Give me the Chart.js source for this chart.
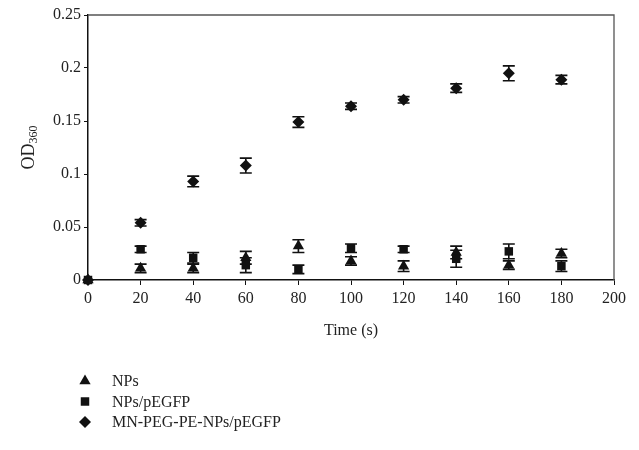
<!DOCTYPE html>
<html>
<head>
<meta charset="utf-8">
<script src="https://cdn.jsdelivr.net/npm/chart.js@4"></script>
<style>
  html, body { margin: 0; padding: 0; background: #fff; }
  #wrap { width: 639px; height: 450px; }
</style>
</head>
<body>
<div id="wrap"><canvas id="odChart" width="639" height="450"></canvas></div>
<script>
// time points (s)
const times = [0, 20, 40, 60, 80, 100, 120, 140, 160, 180];

// OD360 readings and their error (+/-)
const npsValues = [0, 0.011, 0.011, 0.021, 0.032, 0.018, 0.013, 0.026, 0.014, 0.025];
const npsErrors = [0, 0.004, 0.004, 0.006, 0.006, 0.004, 0.005, 0.006, 0.004, 0.004];

const pegfpValues = [0, 0.029, 0.021, 0.014, 0.010, 0.030, 0.029, 0.020, 0.027, 0.013];
const pegfpErrors = [0, 0.003, 0.005, 0.007, 0.004, 0.004, 0.003, 0.008, 0.007, 0.005];

const mnValues = [0, 0.054, 0.093, 0.108, 0.149, 0.164, 0.170, 0.181, 0.195, 0.189];
const mnErrors = [0, 0.003, 0.005, 0.007, 0.005, 0.003, 0.003, 0.004, 0.007, 0.004];

const seriesLabels = ['NPs', 'NPs/pEGFP', 'MN-PEG-PE-NPs/pEGFP'];
const xTicks = [0, 20, 40, 60, 80, 100, 120, 140, 160, 180, 200];
const yTicks = [0, 0.05, 0.1, 0.15, 0.2, 0.25];

const FONT = "'Liberation Serif', 'DejaVu Serif', serif";

function toPoints(values) {
  return values.map((v, i) => ({ x: times[i], y: v }));
}

// error bars drawn through the chart's own scales
const errorBars = {
  id: 'errorBars',
  beforeDatasetsDraw(chart) {
    const ctx = chart.ctx;
    const xs = chart.scales.x, ys = chart.scales.y;
    ctx.save();
    ctx.strokeStyle = '#111';
    ctx.lineWidth = 1.6;
    chart.data.datasets.forEach(ds => {
      ds.data.forEach((p, i) => {
        const e = ds.errors[i];
        if (!e) return;
        const px = xs.getPixelForValue(p.x);
        const top = ys.getPixelForValue(p.y + e);
        const bot = ys.getPixelForValue(p.y - e);
        ctx.beginPath();
        ctx.moveTo(px, top); ctx.lineTo(px, bot);
        ctx.moveTo(px - 6, top); ctx.lineTo(px + 6, top);
        ctx.moveTo(px - 6, bot); ctx.lineTo(px + 6, bot);
        ctx.stroke();
      });
    });
    ctx.restore();
  }
};

// box frame, y title with subscript, and the legend under the plot
const extras = {
  id: 'extras',
  afterDraw(chart) {
    const ctx = chart.ctx;
    const a = chart.chartArea;
    ctx.save();
    ctx.strokeStyle = '#555';
    ctx.lineWidth = 1.3;
    ctx.beginPath();
    ctx.moveTo(a.left, a.top); ctx.lineTo(a.right, a.top); ctx.lineTo(a.right, a.bottom);
    ctx.stroke();

    // y axis title: OD with subscript 360
    ctx.fillStyle = '#222';
    ctx.translate(29, (a.top + a.bottom) / 2);
    ctx.rotate(-Math.PI / 2);
    ctx.font = '18px ' + FONT;
    const w1 = ctx.measureText('OD').width;
    ctx.font = '12px ' + FONT;
    const w2 = ctx.measureText('360').width;
    const start = -(w1 + w2) / 2;
    ctx.textBaseline = 'middle';
    ctx.textAlign = 'left';
    ctx.font = '18px ' + FONT;
    ctx.fillText('OD', start, 0);
    ctx.font = '12px ' + FONT;
    ctx.fillText('360', start + w1, 5);
    ctx.restore();

    // legend, in the label order
    ctx.save();
    ctx.font = '16px ' + FONT;
    ctx.textBaseline = 'middle';
    seriesLabels.forEach((label, i) => {
      const ds = chart.data.datasets.find(d => d.label === label);
      const y = 381 + i * 20.5;
      ctx.fillStyle = '#111';
      Chart.helpers.drawPoint(ctx, {
        pointStyle: ds.pointStyle,
        radius: ds.pointRadius,
        borderWidth: 0
      }, 85, y);
      ctx.fillStyle = '#222';
      ctx.fillText(label, 112, y + 1);
    });
    ctx.restore();
  }
};

const axisTicks = { color: '#222', font: { family: FONT, size: 16 } };

new Chart(document.getElementById('odChart'), {
  type: 'scatter',
  data: {
    datasets: [
      {
        label: seriesLabels[0],
        data: toPoints(npsValues),
        errors: npsErrors,
        pointStyle: 'triangle',
        pointRadius: 6.5,
        backgroundColor: '#111',
        borderColor: '#111',
        borderWidth: 0,
        order: 2
      },
      {
        label: seriesLabels[1],
        data: toPoints(pegfpValues),
        errors: pegfpErrors,
        pointStyle: 'rect',
        pointRadius: 6,
        backgroundColor: '#111',
        borderColor: '#111',
        borderWidth: 0,
        order: 1
      },
      {
        label: seriesLabels[2],
        data: toPoints(mnValues),
        errors: mnErrors,
        pointStyle: 'rectRot',
        pointRadius: 6,
        backgroundColor: '#111',
        borderColor: '#111',
        borderWidth: 0,
        order: 3
      }
    ]
  },
  options: {
    responsive: false,
    animation: false,
    clip: false,
    layout: { padding: { left: 0, right: 25, top: 15, bottom: 106 } },
    plugins: {
      legend: { display: false },
      tooltip: { enabled: false }
    },
    scales: {
      x: {
        type: 'linear',
        min: 0,
        max: 200,
        afterFit: s => { s.height = 64; },
        afterBuildTicks: s => { s.ticks = xTicks.map(v => ({ value: v })); },
        ticks: Object.assign({ padding: 4, maxRotation: 0, callback: v => String(v) }, axisTicks),
        border: { color: '#111', width: 1.5 },
        grid: { drawOnChartArea: false, drawTicks: true, tickLength: 5, color: '#111' },
        title: { display: true, text: 'Time (s)', color: '#222', font: { family: FONT, size: 16 }, padding: { top: 4, bottom: 4 } }
      },
      y: {
        min: 0,
        max: 0.25,
        afterFit: s => { s.width = 88; },
        afterBuildTicks: s => { s.ticks = yTicks.map(v => ({ value: v })); },
        ticks: Object.assign({ padding: 3, callback: v => String(v) }, axisTicks),
        border: { color: '#111', width: 1.5 },
        grid: { drawOnChartArea: false, drawTicks: true, tickLength: 4, color: '#111' }
      }
    }
  },
  plugins: [errorBars, extras]
});
</script>
</body>
</html>
